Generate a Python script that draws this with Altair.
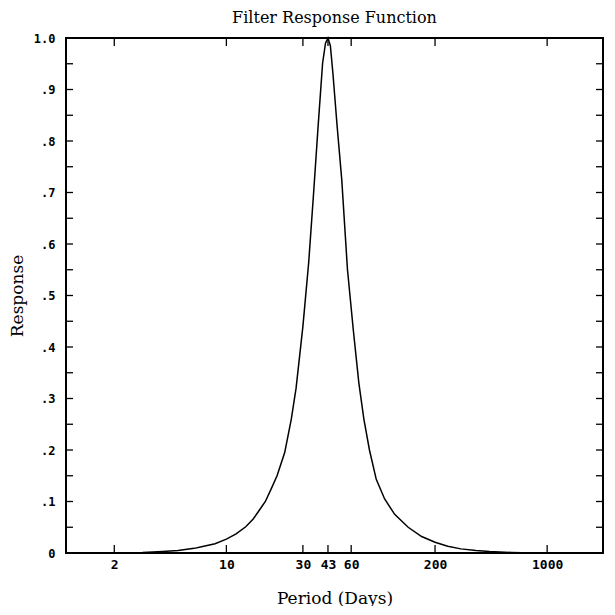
import altair as alt
import pandas as pd

# Curve (period in days, filter response)
periods = [1, 2, 3, 4, 5, 6.3, 7, 8.5, 10, 11.5, 13.2, 14.7, 16.2, 17.5, 19, 20.7,
           23.1, 25.4, 27.2, 30, 32.6, 35, 37.2, 39.8, 41.5, 43, 44.5, 46.2, 49,
           52.4, 56.9, 62, 67, 72, 78, 86, 97, 112, 136, 165, 200, 240, 290, 360,
           437, 600, 800, 1200, 2230]
responses = [0, 0.0, 0.001, 0.003, 0.005, 0.009, 0.012, 0.018, 0.027, 0.037, 0.051,
             0.066, 0.085, 0.10, 0.124, 0.15, 0.195, 0.26, 0.32, 0.44, 0.564, 0.70,
             0.822, 0.951, 0.99, 1.0, 0.985, 0.93, 0.83, 0.725, 0.55, 0.43, 0.33,
             0.26, 0.2, 0.143, 0.105, 0.075, 0.05, 0.032, 0.021, 0.013, 0.008,
             0.005, 0.003, 0.001, 0.0, 0.0, 0.0]

x_ticks = [2, 10, 30, 43, 60, 200, 1000]
y_labels = [0, 0.1, 0.2, 0.3, 0.4, 0.5, 0.6, 0.7, 0.8, 0.9, 1.0]
y_minor = [round(i * 0.05, 2) for i in range(1, 20)]

curve = pd.DataFrame({"period": periods, "response": responses})
xt = pd.DataFrame({"period": x_ticks})
yt = pd.DataFrame({"response": y_minor})

label_font = "DejaVu Sans Mono"
title_font = "DejaVu Serif"

x_enc = alt.X(
    "period:Q",
    scale=alt.Scale(type="log", domain=[1, 2230], nice=False),
    axis=alt.Axis(values=x_ticks, format="d", ticks=False, domain=False, grid=False,
                  labelFont=label_font, labelFontSize=13, labelFontWeight="bold",
                  labelColor="black", labelPadding=5,
                  title="Period (Days)", titleFont=title_font, titleFontSize=17,
                  titleFontWeight="normal", titleColor="black", titlePadding=19,
                  labelFlush=False),
)
y_enc = alt.Y(
    "response:Q",
    scale=alt.Scale(domain=[0, 1], nice=False, zero=True),
    axis=alt.Axis(values=y_labels, ticks=False, domain=False, grid=False,
                  labelExpr="datum.value == 0 ? '0' : datum.value == 1 ? '1.0' : '.' + format(datum.value * 10, 'd')",
                  labelFont=label_font, labelFontSize=12, labelFontWeight="bold",
                  labelColor="black", labelPadding=11,
                  title="Response", titleFont=title_font, titleFontSize=17,
                  titleFontWeight="normal", titleColor="black", titlePadding=7,
                  labelFlush=False),
)

line = alt.Chart(curve).mark_line(color="black", strokeWidth=1.5, strokeJoin="miter").encode(
    x=x_enc, y=y_enc)

tick_style = dict(color="black", strokeWidth=1.3)
xt_top = alt.Chart(xt).mark_rule(**tick_style).encode(
    x=x_enc, y=alt.value(0), y2=alt.value(8))
xt_bottom = alt.Chart(xt).mark_rule(**tick_style).encode(
    x=x_enc,
    y=alt.YValue(alt.ExprRef("height")),
    y2=alt.Y2Value(alt.ExprRef("height - 8")),
)
yt_left = alt.Chart(yt).mark_rule(**tick_style).encode(
    y=y_enc, x=alt.value(0), x2=alt.value(7))
yt_right = alt.Chart(yt).mark_rule(**tick_style).encode(
    y=y_enc,
    x=alt.XValue(alt.ExprRef("width")),
    x2=alt.X2Value(alt.ExprRef("width - 7")),
)
frame = alt.Chart(curve).mark_rect(fill=None, stroke="black", strokeWidth=1.5).encode(
    x=alt.value(0), x2=alt.XValue(alt.ExprRef("width")),
    y=alt.value(0), y2=alt.YValue(alt.ExprRef("height")),
)

chart = (
    alt.layer(frame, xt_bottom, xt_top, yt_left, yt_right, line)
    .properties(
        width=599, height=598,
        autosize=alt.AutoSizeParams(type="fit", contains="padding"),
        padding={"left": 0, "top": 2, "right": 1, "bottom": 0},
        title=alt.Title("Filter Response Function", font=title_font, fontSize=16,
                        fontWeight="normal", color="black", offset=6, anchor="middle"),
    )
    .configure_view(stroke=None)
    .configure(background="white")
)

chart.save("out.html", embed_options={"renderer": "svg", "actions": False})
